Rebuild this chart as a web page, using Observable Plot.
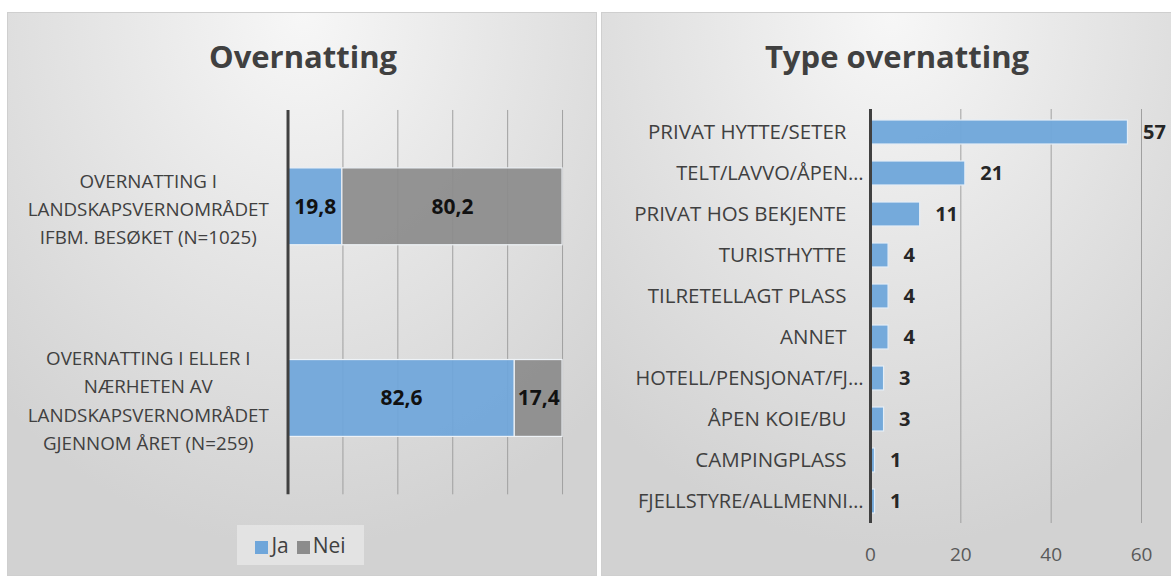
<!DOCTYPE html>
<html>
<head>
<meta charset="utf-8">
<script src="https://cdn.jsdelivr.net/npm/d3@7"></script>
<script src="https://cdn.jsdelivr.net/npm/@observablehq/plot@0.6"></script>
<style>
  body { margin: 0; background: #ffffff; width: 1171px; height: 579px; overflow: hidden; position: relative; font-family: "Open Sans", sans-serif; }
  .panel { position: absolute; top: 12px; height: 564px; border: 1px solid #cfcfcf; box-sizing: border-box;
    background: radial-gradient(ellipse 75% 95% at 50% 0%, #f7f7f7 0%, #e6e6e6 45%, #d2d2d2 100%); overflow: hidden; }
  .title { position: absolute; top: 23px; text-align: center; font-weight: 700; font-size: 31px; line-height: 40px; color: #404040; }
  .chart { position: absolute; top: 83px; }
  .legend { position: absolute; left: 229px; top: 512px; width: 127px; height: 40px; background: rgba(240,240,240,0.55);
    display: flex; align-items: center; justify-content: center; gap: 8px; font-size: 21px; color: #404040; }
  .sw { display: inline-block; width: 13px; height: 13px; margin-right: 3px; vertical-align: -1px; }
</style>
</head>
<body>
<div class="panel" id="left" style="left:7px;width:590px;">
  <div class="title" style="left:0;width:590px;">Overnatting</div>
  <div class="chart" id="chartL" style="left:0;"></div>
  <div class="legend" id="legendL"></div>
</div>
<div class="panel" id="right" style="left:601px;width:580px;">
  <div class="title" style="left:0;width:590px;">Type overnatting</div>
  <div class="chart" id="chartR" style="left:0;"></div>
</div>
<script>
// ---- Data: left chart ----
const leftCategories = [
  "OVERNATTING I\nLANDSKAPSVERNOMRÅDET\nIFBM. BESØKET (N=1025)",
  "OVERNATTING I ELLER I\nNÆRHETEN AV\nLANDSKAPSVERNOMRÅDET\nGJENNOM ÅRET (N=259)"
];
const leftSeries = ["Ja", "Nei"];
const jaValues = [19.8, 82.6];
const neiValues = [80.2, 17.4];
const leftTicks = [20, 40, 60, 80, 100];
const seriesColors = ["#6fa6da", "#8c8c8c"];

// ---- Data: right chart ----
const typeCategories = [
  "PRIVAT HYTTE/SETER",
  "TELT/LAVVO/ÅPEN…",
  "PRIVAT HOS BEKJENTE",
  "TURISTHYTTE",
  "TILRETELLAGT PLASS",
  "ANNET",
  "HOTELL/PENSJONAT/FJ…",
  "ÅPEN KOIE/BU",
  "CAMPINGPLASS",
  "FJELLSTYRE/ALLMENNI…"
];
const typeValues = [57, 21, 11, 4, 4, 4, 3, 3, 1, 1];
const rightTicks = [0, 20, 40, 60];

const fmtComma = v => v.toFixed(1).replace(".", ",");

// ---- Left chart ----
const leftData = [];
leftCategories.forEach((c, i) => {
  leftData.push({cat: c, series: leftSeries[0], value: jaValues[i]});
  leftData.push({cat: c, series: leftSeries[1], value: neiValues[i]});
});

const plotL = Plot.plot({
  width: 589, height: 419,
  marginLeft: 280, marginRight: 34, marginTop: 14, marginBottom: 20,
  style: {background: "transparent", fontFamily: "Open Sans", overflow: "visible"},
  x: {domain: [0, 100], axis: null},
  y: {domain: leftCategories, paddingInner: 0.6, paddingOuter: 0.3, axis: null},
  color: {domain: leftSeries, range: seriesColors},
  marks: [
    Plot.gridX(leftTicks, {stroke: "#a0a0a0", strokeOpacity: 1, strokeWidth: 1}),
    Plot.barX(leftData, {x: "value", y: "cat", fill: "series", fillOpacity: 0.93, stroke: "#eef2f6", strokeWidth: 1.2}),
    Plot.text(leftData, Plot.stackX({x: "value", y: "cat", text: d => fmtComma(d.value), fontWeight: "bold", fontSize: 21, fill: "#111"})),
    Plot.ruleX([0], {stroke: "#404040", strokeWidth: 3}),
    Plot.axisY({anchor: "left", tickSize: 0, tickPadding: 140, textAnchor: "middle", fontSize: 18.8, fill: "#404040", lineHeight: 1.5, label: null})
  ]
});
document.getElementById("chartL").appendChild(plotL);

// legend
const leg = document.getElementById("legendL");
leftSeries.forEach((s, i) => {
  const span = document.createElement("span");
  span.innerHTML = `<span class="sw" style="background:${seriesColors[i]}"></span>${s}`;
  leg.appendChild(span);
});

// ---- Right chart ----
const rightData = typeCategories.map((c, i) => ({cat: c, value: typeValues[i]}));
const truncated = typeCategories.filter(c => c.endsWith("…"));
const full = typeCategories.filter(c => !c.endsWith("…"));

const plotR = Plot.plot({
  width: 570, height: 480,
  marginLeft: 268, marginRight: 31, marginTop: 13, marginBottom: 53,
  style: {background: "transparent", fontFamily: "Open Sans", overflow: "visible"},
  x: {domain: [0, 60], axis: null},
  y: {domain: typeCategories, paddingInner: 0.42, paddingOuter: 0.21, axis: null},
  marks: [
    Plot.gridX([20, 40, 60], {stroke: "#a0a0a0", strokeOpacity: 1, strokeWidth: 1}),
    Plot.barX(rightData, {x: "value", y: "cat", fill: seriesColors[0], fillOpacity: 0.95, stroke: "#e4edf6", strokeWidth: 1.2}),
    Plot.text(rightData, {x: "value", y: "cat", text: d => String(d.value), dx: 15, textAnchor: "start", fontWeight: "bold", fontSize: 20, fill: "#262626"}),
    Plot.ruleX([0], {stroke: "#404040", strokeWidth: 3}),
    Plot.axisY(full, {anchor: "left", tickSize: 0, tickPadding: 24, fontSize: 20.5, fill: "#404040", label: null}),
    Plot.axisY(truncated, {anchor: "left", tickSize: 0, tickPadding: 7, fontSize: 20, fill: "#404040", label: null}),
    Plot.axisX(rightTicks, {anchor: "bottom", tickSize: 0, tickPadding: 24, fontSize: 19, fill: "#595959", label: null})
  ]
});
document.getElementById("chartR").appendChild(plotR);
</script>
</body>
</html>
